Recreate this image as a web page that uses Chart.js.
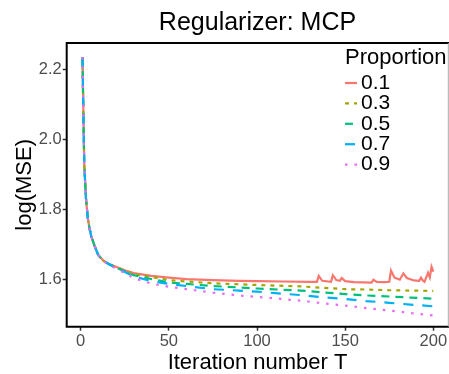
<!DOCTYPE html>
<html>
<head>
<meta charset="utf-8">
<script src="https://cdn.jsdelivr.net/npm/chart.js@4.4.1/dist/chart.umd.min.js"></script>
<style>
  html, body { margin: 0; padding: 0; background: #fff; }
  #wrap { width: 449px; height: 374px; position: relative; }
</style>
</head>
<body>
<div id="wrap"><canvas id="mseChart"></canvas></div>
<script>
// values
var proportions = ['0.1', '0.3', '0.5', '0.7', '0.9'];
var xTicks = [0, 50, 100, 150, 200];
var yTicks = [1.6, 1.8, 2.0, 2.2];

var iters = [1, 2, 3, 4, 5, 6, 8, 10, 13, 16, 20, 25, 30, 40, 50, 60, 75, 90, 100, 112, 125, 137, 150, 162, 175, 187, 200];
var mse03 = [2.235, 1.93, 1.83, 1.775, 1.745, 1.722, 1.693, 1.668, 1.652, 1.643, 1.634, 1.624, 1.614, 1.606, 1.597, 1.593, 1.588, 1.585, 1.583, 1.581, 1.579, 1.575, 1.571, 1.570, 1.568, 1.567, 1.566];
var mse05 = [2.235, 1.93, 1.83, 1.775, 1.745, 1.722, 1.693, 1.668, 1.652, 1.643, 1.633, 1.622, 1.611, 1.600, 1.590, 1.586, 1.580, 1.576, 1.573, 1.570, 1.567, 1.562, 1.557, 1.553, 1.550, 1.547, 1.544];
var mse07 = [2.235, 1.93, 1.83, 1.775, 1.745, 1.722, 1.693, 1.668, 1.652, 1.642, 1.632, 1.620, 1.608, 1.594, 1.586, 1.580, 1.571, 1.567, 1.564, 1.559, 1.554, 1.548, 1.543, 1.537, 1.532, 1.527, 1.522];
var mse09 = [2.235, 1.93, 1.83, 1.775, 1.745, 1.722, 1.693, 1.668, 1.651, 1.641, 1.630, 1.617, 1.603, 1.587, 1.578, 1.571, 1.561, 1.553, 1.549, 1.544, 1.538, 1.531, 1.524, 1.517, 1.510, 1.503, 1.496];

// 0.1 has the little spikes near the end, so it gets its own iterations
var iters01 = [1, 2, 3, 4, 5, 6, 8, 10, 13, 16, 20, 25, 30, 40, 50, 60, 75, 90, 100, 115, 130, 134, 135, 137, 142, 143, 145, 147, 148, 150, 155, 165, 166, 168, 172, 175, 176, 178, 181, 183, 185, 189, 192, 193, 194, 195, 197, 198, 199, 200];
var mse01 = [2.235, 1.93, 1.83, 1.775, 1.745, 1.722, 1.693, 1.668, 1.652, 1.643, 1.635, 1.625, 1.617, 1.609, 1.604, 1.600, 1.597, 1.595, 1.594, 1.593, 1.592, 1.592, 1.609, 1.595, 1.592, 1.611, 1.597, 1.595, 1.603, 1.594, 1.591, 1.590, 1.598, 1.592, 1.591, 1.592, 1.624, 1.604, 1.598, 1.616, 1.603, 1.596, 1.595, 1.604, 1.596, 1.592, 1.618, 1.605, 1.635, 1.621];

var colors = ['#F8766D', '#A3A500', '#00BF7D', '#00B0F6', '#E76BF3'];
var dashes = [[], [4, 5], [8, 6], [10, 9], [2.5, 7]];

var FONT = '"Liberation Sans", Arial, Helvetica, sans-serif';

function toPoints(xs, ys) {
    var pts = [];
    for (var i = 0; i < xs.length; i++) {
        pts.push({ x: xs[i], y: ys[i] });
    }
    return pts;
}

var seriesData = [
    toPoints(iters01, mse01),
    toPoints(iters, mse03),
    toPoints(iters, mse05),
    toPoints(iters, mse07),
    toPoints(iters, mse09)
];

var datasets = [];
for (var i = 0; i < proportions.length; i++) {
    datasets.push({
        label: proportions[i],
        data: seriesData[i],
        borderColor: colors[i],
        backgroundColor: colors[i],
        borderDash: dashes[i],
        borderWidth: 2.2,
        borderCapStyle: 'butt',
        pointRadius: 0,
        tension: 0,
        fill: false,
        order: proportions.length - i
    });
}

// panel frame (ggplot style box)
var framePlugin = {
    id: 'frame',
    afterDraw: function(chart) {
        var a = chart.chartArea;
        var ctx = chart.ctx;
        ctx.save();
        ctx.strokeStyle = '#000';
        ctx.lineWidth = 2;
        ctx.beginPath();
        ctx.moveTo(a.right + 1, a.top);
        ctx.lineTo(a.left, a.top);
        ctx.lineTo(a.left, a.bottom);
        ctx.lineTo(a.right + 1, a.bottom);
        ctx.stroke();
        ctx.strokeStyle = '#aaa';
        ctx.lineWidth = 1;
        ctx.beginPath();
        ctx.moveTo(a.right, a.top);
        ctx.lineTo(a.right, a.bottom);
        ctx.stroke();
        ctx.restore();
    }
};

// legend drawn inside the panel, top right
var legendPlugin = {
    id: 'insideLegend',
    afterDraw: function(chart) {
        var ctx = chart.ctx;
        var x0 = 345;
        ctx.save();
        ctx.fillStyle = '#000';
        ctx.textBaseline = 'middle';
        ctx.textAlign = 'left';
        ctx.font = '22px ' + FONT;
        ctx.fillText('Proportion', x0, 58);
        ctx.font = '21px ' + FONT;
        chart.data.datasets.forEach(function(ds, k) {
            var y = 83 + k * 20.4;
            ctx.strokeStyle = ds.borderColor;
            ctx.lineWidth = 2.2;
            ctx.setLineDash(ds.borderDash);
            ctx.beginPath();
            ctx.moveTo(x0, y);
            ctx.lineTo(x0 + 12, y);
            ctx.stroke();
            ctx.setLineDash([]);
            ctx.fillText(ds.label, x0 + 16, y);
        });
        ctx.restore();
    }
};

var ctx = document.getElementById('mseChart').getContext('2d');
var mseChart = new Chart(ctx, {
    type: 'line',
    data: { datasets: datasets },
    options: {
        responsive: true,
        maintainAspectRatio: false,
        animation: false,
        layout: { padding: { top: 0, right: 0.7, left: 0, bottom: 0 } },
        plugins: {
            legend: { display: false },
            tooltip: { enabled: false },
            title: {
                display: true,
                fullSize: false, // center over the panel, like ggplot
                text: 'Regularizer: MCP',
                color: '#000',
                font: { family: FONT, size: 25, weight: 'normal', lineHeight: 1.2 },
                padding: { top: 8, bottom: 5 }
            }
        },
        scales: {
            x: {
                type: 'linear',
                min: -7.94,
                max: 208.5,
                afterBuildTicks: function(scale) {
                    scale.ticks = xTicks.map(function(v) { return { value: v }; });
                },
                afterFit: function(scale) { scale.height = 47.3; },
                border: { display: false },
                grid: {
                    drawOnChartArea: false,
                    drawTicks: true,
                    tickLength: 4,
                    tickWidth: 1.5,
                    color: '#333'
                },
                ticks: {
                    color: '#4D4D4D',
                    padding: 1,
                    maxRotation: 0,
                    font: { family: FONT, size: 16.5 },
                    callback: function(v) { return v; }
                },
                title: {
                    display: true,
                    text: 'Iteration number T',
                    color: '#000',
                    font: { family: FONT, size: 22, lineHeight: 1.0 },
                    padding: { top: 0, bottom: 0 }
                }
            },
            y: {
                min: 1.4637,
                max: 2.275,
                afterBuildTicks: function(scale) {
                    scale.ticks = yTicks.map(function(v) { return { value: v }; });
                },
                afterFit: function(scale) { scale.width = 66.7; },
                border: { display: false },
                grid: {
                    drawOnChartArea: false,
                    drawTicks: true,
                    tickLength: 4,
                    tickWidth: 1.5,
                    color: '#333'
                },
                ticks: {
                    color: '#4D4D4D',
                    padding: 1,
                    font: { family: FONT, size: 16.5 },
                    callback: function(v) { return v.toFixed(1); }
                },
                title: {
                    display: true,
                    text: 'log(MSE)',
                    color: '#000',
                    font: { family: FONT, size: 22, lineHeight: 1.0 },
                    padding: { top: 14, bottom: 0 }
                }
            }
        }
    },
    plugins: [framePlugin, legendPlugin]
});
</script>
</body>
</html>
